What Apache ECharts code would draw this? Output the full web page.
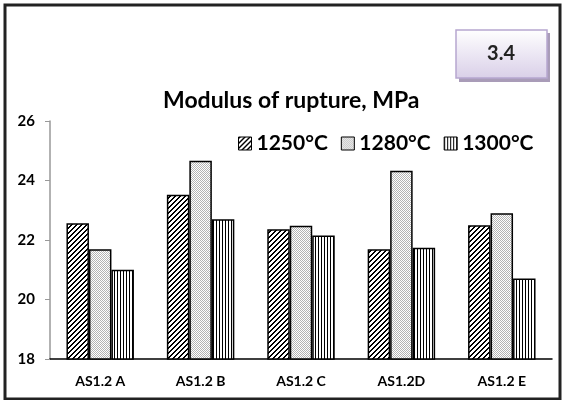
<!DOCTYPE html>
<html>
<head>
<meta charset="utf-8">
<script src="https://cdn.jsdelivr.net/npm/echarts@6/dist/echarts.min.js"></script>
<style>
  html, body { margin: 0; padding: 0; background: #fff; }
  #chart { width: 564px; height: 400px; }
</style>
</head>
<body>
<div id="chart"></div>
<script>
const samples = ['AS1.2 A', 'AS1.2 B', 'AS1.2 C', 'AS1.2D', 'AS1.2 E']
const temps = ['1250°C', '1280°C', '1300°C']
const mor1250 = [22.56, 23.52, 22.36, 21.69, 22.50]
const mor1280 = [21.69, 24.66, 22.48, 24.33, 22.90]
const mor1300 = [21.00, 22.70, 22.15, 21.74, 20.71]
const yTicks = [18, 20, 22, 24, 26]

// fill patterns like the old excel hatches
function makePattern (size, test, ink) {
  const c = document.createElement('canvas')
  c.width = size
  c.height = size
  const ctx = c.getContext('2d')
  ctx.fillStyle = '#fff'
  ctx.fillRect(0, 0, size, size)
  ctx.fillStyle = ink
  for (let y = 0; y < size; y++) {
    for (let x = 0; x < size; x++) {
      if (test(x, y)) ctx.fillRect(x, y, 1, 1)
    }
  }
  return { image: c, repeat: 'repeat' }
}

const hatch = makePattern(5, (x, y) => (x + y) % 5 < 2, '#000')
const dots = makePattern(2, (x, y) => (x + y) % 2 === 0, '#b4b4b4')
const vlines = makePattern(3, (x, y) => x === 0, '#000')

const font = 'Lato, "Open Sans", sans-serif'

function barSeries (name, data, fill) {
  return {
    name: name,
    type: 'bar',
    data: data,
    barWidth: '22.4%',
    barGap: '0%',
    itemStyle: { color: fill, borderColor: '#000', borderWidth: 1.5 }
  }
}

const chart = echarts.init(document.getElementById('chart'))
chart.setOption({
  animation: false,
  backgroundColor: '#fff',
  textStyle: { fontFamily: font },
  title: {
    text: 'Modulus of rupture, MPa',
    left: 158,
    top: 84,
    textStyle: { fontFamily: font, fontSize: 23, fontWeight: 'bold', color: '#000' }
  },
  legend: {
    data: temps,
    left: 233,
    top: 128,
    itemWidth: 13,
    itemHeight: 13,
    itemGap: 13,
    icon: 'rect',
    itemStyle: { borderColor: '#000', borderWidth: 1 },
    textStyle: { fontFamily: font, fontSize: 21, fontWeight: 'bold', color: '#000' }
  },
  grid: { left: 50, right: 12, top: 121, bottom: 41 },
  xAxis: {
    type: 'category',
    data: samples,
    axisLine: { lineStyle: { color: '#000', width: 1.5 } },
    axisTick: { show: false },
    axisLabel: { fontFamily: font, fontSize: 14, fontWeight: 'bold', color: '#000', margin: 15 }
  },
  yAxis: {
    type: 'value',
    min: yTicks[0],
    max: yTicks[yTicks.length - 1],
    interval: 2,
    axisLine: { show: true, lineStyle: { color: '#999', width: 1.5 } },
    axisTick: { show: true, length: 5, lineStyle: { color: '#999' } },
    splitLine: { show: false },
    axisLabel: { fontFamily: font, fontSize: 15, fontWeight: 'bold', color: '#000', margin: 15 }
  },
  series: [
    barSeries(temps[0], mor1250, hatch),
    barSeries(temps[1], mor1280, dots),
    barSeries(temps[2], mor1300, vlines)
  ],
  graphic: [
    {
      type: 'rect',
      shape: { x: 5, y: 5, width: 555, height: 394 },
      style: { fill: 'none', stroke: '#222', lineWidth: 3 },
      silent: true
    },
    {
      type: 'rect',
      shape: { x: 459, y: 33, width: 91, height: 49 },
      style: { fill: '#a99cb8' },
      silent: true
    },
    {
      type: 'rect',
      shape: { x: 456, y: 30, width: 91, height: 48 },
      style: {
        fill: new echarts.graphic.LinearGradient(0, 0, 0, 1, [
          { offset: 0, color: '#ffffff' },
          { offset: 1, color: '#d9cfe8' }
        ]),
        stroke: '#b7a6d0',
        lineWidth: 1.5
      },
      silent: true
    },
    {
      type: 'text',
      x: 501,
      y: 54,
      style: {
        text: '3.4',
        font: 'bold 20px ' + font,
        fill: '#222',
        align: 'center',
        verticalAlign: 'middle'
      },
      silent: true
    }
  ]
})
</script>
</body>
</html>
